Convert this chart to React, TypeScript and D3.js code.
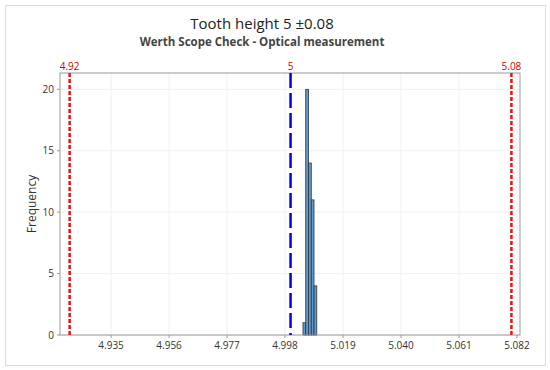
import React from "react";
import * as d3 from "d3";

const binStarts = [5.0045, 5.0055, 5.0065, 5.0075, 5.0085];
const binWidth = 0.001;
const counts = [1, 20, 14, 11, 4];
const xTicks = [4.935, 4.956, 4.977, 4.998, 5.019, 5.04, 5.061, 5.082];
const yTicks = [0, 5, 10, 15, 20];
const specLimits = [
  { value: 4.92, label: "4.92", kind: "limit" },
  { value: 5.0, label: "5", kind: "target" },
  { value: 5.08, label: "5.08", kind: "limit" },
];
const title = "Tooth height 5 ±0.08";
const subtitle = "Werth Scope Check - Optical measurement";

const W = 550, H = 370;
const L = 60, R = 520, T = 73, B = 335;
const font = "'Open Sans', 'Noto Sans', sans-serif";

export default function App() {
  const x = d3.scaleLinear().domain([4.9165, 5.0831]).range([L, R]);
  const y = d3.scaleLinear().domain([0, 21.33]).range([B, T]);
  return (
    <svg width={W} height={H} style={{ position: "absolute", left: 0, top: 0, background: "#fff" }} fontFamily={font}>
      <rect x={5.5} y={5.5} width={540} height={360} fill="#fff" stroke="#dcdcdc" />
      <text x={262} y={29} textAnchor="middle" fontSize={15} fill="#222">{title}</text>
      <text x={262} y={46} textAnchor="middle" fontSize={11.5} fontWeight="bold" fill="#444">{subtitle}</text>
      {xTicks.map((t) => (
        <line key={"gx" + t} x1={x(t)} x2={x(t)} y1={T} y2={B} stroke="#f0f0f0" />
      ))}
      {yTicks.map((t) => (
        <line key={"gy" + t} x1={L} x2={R} y1={y(t)} y2={y(t)} stroke="#f0f0f0" />
      ))}
      {binStarts.map((s, i) => (
        <rect key={"b" + i} x={x(s)} y={y(counts[i])} width={x(s + binWidth) - x(s)} height={B - y(counts[i])}
          fill="#5b9bd5" stroke="#333" strokeWidth={0.8} />
      ))}
      <rect x={L} y={T} width={R - L} height={B - T} fill="none" stroke="#999" />
      {xTicks.map((t) => (
        <g key={"tx" + t}>
          <line x1={x(t)} x2={x(t)} y1={B} y2={B + 3} stroke="#999" />
          <text x={x(t)} y={349} textAnchor="middle" fontSize={10} fill="#333">{t.toFixed(3)}</text>
        </g>
      ))}
      {yTicks.map((t) => (
        <g key={"ty" + t}>
          <line x1={L - 3} x2={L} y1={y(t)} y2={y(t)} stroke="#999" />
          <text x={L - 6} y={y(t) + 3.5} textAnchor="end" fontSize={10} fill="#333">{t}</text>
        </g>
      ))}
      <text transform={`translate(36,${(T + B) / 2}) rotate(-90)`} textAnchor="middle" fontSize={12} fill="#333">Frequency</text>
      {specLimits.map((s) => (
        <g key={"s" + s.label}>
          <line x1={x(s.value)} x2={x(s.value)} y1={T} y2={B}
            stroke={s.kind === "target" ? "#0000ee" : "#ee1111"} strokeWidth={2.5}
            strokeDasharray={s.kind === "target" ? "15,5" : "4,2"} />
          <text x={x(s.value)} y={70} textAnchor="middle" fontSize={10} fill="#cc0000">{s.label}</text>
        </g>
      ))}
    </svg>
  );
}
